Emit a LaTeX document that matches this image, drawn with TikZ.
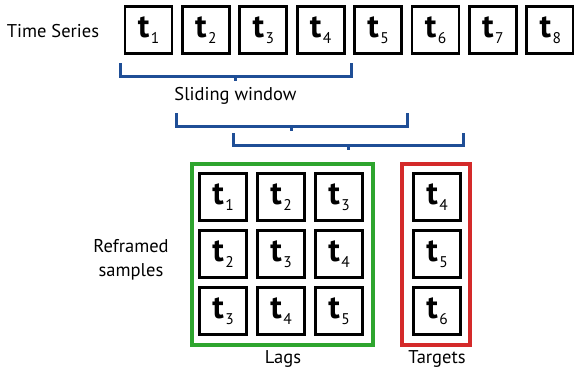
\documentclass[tikz,border=0pt]{standalone}
\usepackage{fontspec}
\setmainfont{PT Sans}
\definecolor{brblue}{HTML}{1F4E96}
\definecolor{lgreen}{HTML}{2EA52E}
\definecolor{tred}{HTML}{D42A2A}
\newcommand{\tlab}[1]{{\bfseries\fontsize{33}{33}\selectfont t}\kern1.5pt\raisebox{-6pt}{\fontsize{15.5}{15.5}\selectfont #1}}
\begin{document}
\begin{tikzpicture}[x=1pt,y=-1pt,
  tbox/.style={draw=black,line width=2.8pt,minimum width=47pt,minimum height=47pt,inner sep=0pt,fill=white},
  lbl/.style={font=\fontsize{18.5}{24}\selectfont,inner sep=0pt,align=center},
  brk/.style={draw=brblue,line width=3pt},
  frame/.style={line width=4pt,minimum height=181pt,inner sep=0pt}]
\useasboundingbox (0,0) rectangle (574,378);
\fill[white] (0,0) rectangle (574,378);
% time series
\node[lbl] (tslabel) at (53,31) {Time Series};
\foreach \i in {1,...,8}{
  \node[tbox] (ts\i) at ({148.5+57.4*(\i-1)},30) {\tlab{\i}};
}
% brackets
\coordinate (b1l) at (120,63); \coordinate (b1r) at (351,63);
\coordinate (b2l) at (176,113); \coordinate (b2r) at (407,113);
\coordinate (b3l) at (233,133); \coordinate (b3r) at (463,133);
\draw[brk] (b1l) -- ++(0,13) -| (b1r);
\draw[brk] (235.5,76) -- ++(0,5);
\draw[brk] (b2l) -- ++(0,13) -| (b2r);
\draw[brk] (291.5,126) -- ++(0,5);
\draw[brk] (b3l) -- ++(0,12) -| (b3r);
\draw[brk] (348,145) -- ++(0,5);
\node[lbl] (swlabel) at (235.5,96) {Sliding window};
% frames
\node[frame,draw=lgreen,minimum width=181pt] (lagsframe) at (282.5,254.5) {};
\node[frame,draw=tred,minimum width=68pt] (tgtframe) at (436,254.5) {};
% grid
\foreach \r/\y in {1/197,2/254,3/311}{
  \foreach \c/\x in {1/223,2/281,3/339}{
    \pgfmathtruncatemacro{\k}{\r+\c-1}
    \node[tbox] (g\r\c) at (\x,\y) {\tlab{\k}};
  }
  \pgfmathtruncatemacro{\kk}{\r+3}
  \node[tbox] (tg\r) at (437,\y) {\tlab{\kk}};
}
\node[lbl] (rflabel) at (131,260) {Reframed\\samples};
\node[lbl] (lagslabel) at (283,359) {Lags};
\node[lbl] (tgtlabel) at (437,359) {Targets};
\end{tikzpicture}
\end{document}
